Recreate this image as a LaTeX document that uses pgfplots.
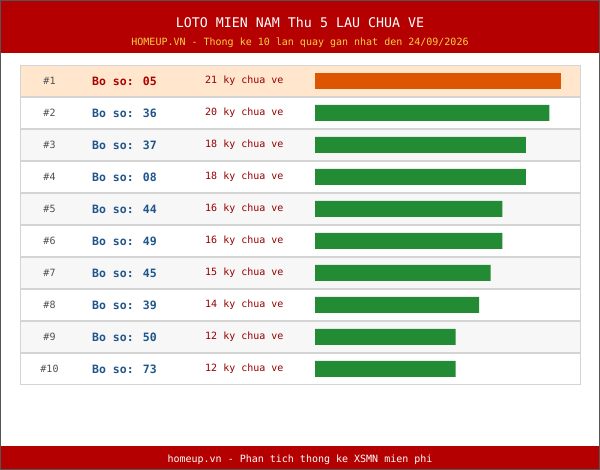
\documentclass[border=0pt]{standalone}
\usepackage{pgfplots}
\usepackage{pgfplotstable}
\pgfplotsset{compat=1.18}
\usepackage{fontspec}
\setmainfont{DejaVu Sans Mono}
\definecolor{hdr}{RGB}{180,0,0}
\definecolor{gold}{RGB}{255,208,64}
\definecolor{peach}{RGB}{255,230,204}
\definecolor{altrow}{RGB}{247,247,247}
\definecolor{gridc}{RGB}{212,212,212}
\definecolor{framec}{RGB}{85,85,85}
\definecolor{barorange}{RGB}{221,85,0}
\definecolor{bargreen}{RGB}{34,139,52}
\definecolor{rankgray}{RGB}{80,80,80}
\definecolor{numred}{RGB}{170,0,0}
\definecolor{numblue}{RGB}{30,85,140}
\definecolor{kyred}{RGB}{150,0,0}

% rank, gap count (draws since last seen)
\pgfplotstableread{
rank ky
1 21
}\first
\pgfplotstableread{
rank ky
2 20
3 18
4 18
5 16
6 16
7 15
8 14
9 12
10 12
}\rest

\begin{document}
\begin{tikzpicture}
\begin{axis}[at={(0,0)}, anchor=south west, scale only axis,
  width=600pt, height=470pt, xmin=0, xmax=600, ymin=0, ymax=470,
  y dir=reverse, hide axis, clip=false]
  \fill[white] (0,0) rectangle (600,470);
  \fill[hdr] (0,0) rectangle (600,53);
  \fill[hdr] (0,446) rectangle (600,470);
  \draw[framec, line width=1pt] (0.5,0.5) rectangle (599.5,469.5);
  % rows
  \filldraw[fill=peach, draw=gridc, line width=1pt] (20,65.5) rectangle (580,96.5);
  \filldraw[fill=white, draw=gridc, line width=1pt] (20,97.5) rectangle (580,128.5);
  \filldraw[fill=altrow, draw=gridc, line width=1pt] (20,129.5) rectangle (580,160.5);
  \filldraw[fill=white, draw=gridc, line width=1pt] (20,161.5) rectangle (580,192.5);
  \filldraw[fill=altrow, draw=gridc, line width=1pt] (20,193.5) rectangle (580,224.5);
  \filldraw[fill=white, draw=gridc, line width=1pt] (20,225.5) rectangle (580,256.5);
  \filldraw[fill=altrow, draw=gridc, line width=1pt] (20,257.5) rectangle (580,288.5);
  \filldraw[fill=white, draw=gridc, line width=1pt] (20,289.5) rectangle (580,320.5);
  \filldraw[fill=altrow, draw=gridc, line width=1pt] (20,321.5) rectangle (580,352.5);
  \filldraw[fill=white, draw=gridc, line width=1pt] (20,353.5) rectangle (580,384.5);
  % titles
  \node[text=white, inner sep=0, font=\fontsize{13.3}{15}\selectfont] at (300,23) {LOTO MIEN NAM Thu 5 LAU CHUA VE};
  \node[text=gold, inner sep=0, font=\fontsize{10}{12}\selectfont] at (300,43) {HOMEUP.VN - Thong ke 10 lan quay gan nhat den 24/09/2026};
  \node[text=white, inner sep=0, font=\fontsize{10}{12}\selectfont] at (300,460) {homeup.vn - Phan tich thong ke XSMN mien phi};
  % rank labels
  \begin{scope}[every node/.style={text=rankgray, inner sep=0, font=\fontsize{10}{12}\selectfont}]
  \node at (49.5,81) {\#1};
  \node at (49.5,113) {\#2};
  \node at (49.5,145) {\#3};
  \node at (49.5,177) {\#4};
  \node at (49.5,209) {\#5};
  \node at (49.5,241) {\#6};
  \node at (49.5,273) {\#7};
  \node at (49.5,305) {\#8};
  \node at (49.5,337) {\#9};
  \node at (49.5,369) {\#10};
  \end{scope}
  % number labels
  \begin{scope}[every node/.style={text=numblue, anchor=west, inner sep=0, font=\fontsize{11.5}{13}\selectfont\bfseries}]
  \node[text=numred] at (92,81) {Bo so: 05};
  \node at (92,113) {Bo so: 36};
  \node at (92,145) {Bo so: 37};
  \node at (92,177) {Bo so: 08};
  \node at (92,209) {Bo so: 44};
  \node at (92,241) {Bo so: 49};
  \node at (92,273) {Bo so: 45};
  \node at (92,305) {Bo so: 39};
  \node at (92,337) {Bo so: 50};
  \node at (92,369) {Bo so: 73};
  \end{scope}
  % gap labels
  \begin{scope}[every node/.style={text=kyred, anchor=west, inner sep=0, font=\fontsize{10}{12}\selectfont}]
  \node at (205,81) {21 ky chua ve};
  \node at (205,113) {20 ky chua ve};
  \node at (205,145) {18 ky chua ve};
  \node at (205,177) {18 ky chua ve};
  \node at (205,209) {16 ky chua ve};
  \node at (205,241) {16 ky chua ve};
  \node at (205,273) {15 ky chua ve};
  \node at (205,305) {14 ky chua ve};
  \node at (205,337) {12 ky chua ve};
  \node at (205,369) {12 ky chua ve};
  \end{scope}
\end{axis}
\begin{axis}[at={(315pt,405pt)}, anchor=north west, scale only axis,
  width=246pt, height=320pt, xmin=0, xmax=21, ymin=0.5, ymax=10.5,
  y dir=reverse, hide axis, clip=false, xbar, bar width=16pt]
  \addplot[fill=barorange, draw=none, bar shift=0pt] table[x=ky, y=rank] {\first};
  \addplot[fill=bargreen, draw=none, bar shift=0pt] table[x=ky, y=rank] {\rest};
\end{axis}
\end{tikzpicture}
\end{document}
